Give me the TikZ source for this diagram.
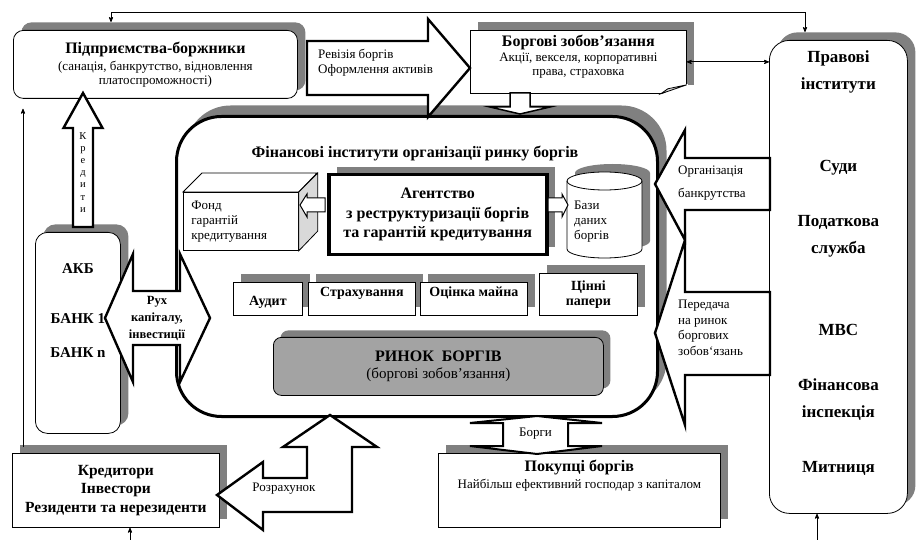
\documentclass[tikz,border=0pt]{standalone}
\usepackage{fontspec}
\setmainfont{Liberation Serif}
\usetikzlibrary{arrows,positioning,shadows}
\definecolor{shadowgray}{gray}{0.5}
\definecolor{marketgray}{gray}{0.64}
\definecolor{facegray}{gray}{0.85}
\newcommand{\hdfont}{\bfseries\fontsize{16}{18}\selectfont}
\newcommand{\sbfont}{\bfseries\fontsize{14}{15}\selectfont}
\newcommand{\txfont}{\fontsize{13}{14}\selectfont}
\tikzset{
    %Define standard arrow tip
    >=stealth',
    %Define style for boxes
    punktbox/.style={
           rectangle,
           draw=black, line width=0.8pt,
           fill=white,
           anchor=north west,
           inner sep=0pt,
           align=center},
    punktround/.style={
           punktbox,
           rounded corners=10pt},
    grayshadow/.style={
           drop shadow={shadow xshift=#1, shadow yshift=#1,
                        opacity=1, fill=shadowgray}},
    grayshadow/.default=8pt,
    % text at the top of a box
    toptext/.style={anchor=north, inner sep=0pt, align=center},
    % Define block arrow style
    pil/.style={
           draw=black,
           line width=2.4pt,
           fill=white,
           line join=miter}
}
\begin{document}
\begin{tikzpicture}[x=1pt,y=-1pt,font=\txfont]
\useasboundingbox (0,0) rectangle (922,540);

% outer boxes
\node[punktround, grayshadow, minimum width=284pt, minimum height=68pt]
  (debtors) at (13,30) {{\hdfont Підприємства-боржники}\\[3pt]
  (санація, банкрутство, відновлення\\платоспроможності)};
\node[punktbox, grayshadow, minimum width=216pt, minimum height=63pt,
  label={[toptext, yshift=-5pt]north:{{\hdfont Боргові зобов’язання}\\[1pt]
  Акції, векселя, корпоративні\\права, страховка}}]
  (oblig) at (470,30) {};
\fill[white] ([shift={(1,-10)}]oblig.south east) -- ([shift={(1,1)}]oblig.south east)
  -- ([shift={(-27,1)}]oblig.south east) -- cycle;
\filldraw[fill=facegray, line width=0.8pt] ([yshift=9pt]oblig.south east)
  -- ([shift={(-19,-5)}]oblig.south east) -- ([xshift=-26pt]oblig.south east) -- cycle;
\node[punktround, grayshadow, rounded corners=20pt, minimum width=138pt, minimum height=473pt,
  label={[toptext, yshift=-11pt, font=\bfseries\fontsize{17}{27}\selectfont]north:{Правові\\інститути\\[55pt]Суди\\[28pt]Податкова\\служба\\[55pt]МВС\\[28pt]Фінансова\\інспекція\\[28pt]Митниця}}]
  (legal) at (769,40) {};
\node[punktround, rounded corners=45pt, line width=3pt, minimum width=481pt, minimum height=300pt,
  drop shadow={shadow xshift=9pt, shadow yshift=11pt, opacity=1, fill=shadowgray}]
  (fin) at (175,115) {};
\node[punktround, grayshadow, rounded corners=12pt, minimum width=85pt, minimum height=201pt,
  label={[toptext, yshift=-31pt, font=\bfseries\fontsize{15}{17}\selectfont]north:{АКБ\\[33pt]БАНК 1\\[17pt]БАНК n}}]
  (akb) at (35,232) {};
\node[punktbox, grayshadow, minimum width=207pt, minimum height=74pt,
  font=\bfseries\fontsize{15.5}{18.5}\selectfont]
  (kred) at (12,453) {Кредитори\\Інвестори\\Резиденти та нерезиденти};
\node[punktbox, grayshadow, minimum width=282pt, minimum height=74pt,
  label={[toptext, yshift=-7pt]north:{{\hdfont Покупці боргів}\\[3pt]Найбільш ефективний господар з капіталом}}]
  (buyers) at (438,453) {};

% inside the financial institutions
\node[font=\bfseries\fontsize{16}{18}\selectfont, anchor=base] (fintitle) at (415,158)
  {Фінансові інститути організації ринку боргів};
\node[punktbox, minimum width=115pt, minimum height=58pt, text width=99pt, align=left,
  font=\fontsize{13}{15}\selectfont] (fund) at (183,192) {Фонд\\гарантій\\кредитування};
\filldraw[fill=white, line width=0.8pt] (fund.north west) -- ++(19,-19) -- ++(115,0)
  -- (fund.north east) -- cycle;
\filldraw[fill=facegray, line width=0.8pt] (fund.north east) -- ++(19,-19) -- ++(0,58)
  -- (fund.south east) -- cycle;
\node[punktbox, grayshadow, line width=3.5pt, minimum width=218pt, minimum height=80pt,
  font=\bfseries\fontsize{16}{19.5}\selectfont]
  (agency) at (327,173) {Агентство\\з реструктуризації боргів\\та гарантій кредитування};
% data base cylinder
\fill[shadowgray] (575,173) -- (575,241) arc[start angle=180, end angle=360, x radius=37.5pt, y radius=9pt]
  -- (650,173) arc[start angle=0, end angle=180, x radius=37.5pt, y radius=9pt] -- cycle;
\filldraw[fill=white, line width=0.8pt] (567,181) -- (567,249)
  arc[start angle=180, end angle=360, x radius=37.5pt, y radius=9pt]
  -- (642,181) arc[start angle=0, end angle=180, x radius=37.5pt, y radius=9pt] -- cycle;
\draw[line width=0.8pt] (567,181) arc[start angle=180, end angle=360, x radius=37.5pt, y radius=9pt];
\node[align=left, anchor=west, inner sep=0pt, font=\fontsize{13}{15}\selectfont]
  (db) at (574,222) {Бази\\даних\\боргів};

\node[punktbox, grayshadow, minimum width=69pt, text height=23pt, text depth=10pt, font=\sbfont]
  (audit) at (233,282) {Аудит};
\node[punktbox, grayshadow, minimum width=107pt, text height=14pt, text depth=19pt, font=\sbfont]
  (insur) at (308,282) {Страхування};
\node[punktbox, grayshadow, minimum width=107pt, text height=14pt, text depth=19pt, font=\sbfont]
  (valuation) at (420,282) {Оцінка майна};
\node[punktbox, grayshadow, minimum width=98pt, minimum height=42pt, font=\sbfont]
  (secur) at (539,273) {Цінні\\папери};
\node[punktround, rounded corners=8pt, fill=marketgray, grayshadow=7pt,
  minimum width=330pt, minimum height=58pt]
  (market) at (273,337) {{\hdfont РИНОК~~БОРГІВ}\\[3pt]\fontsize{15}{17}\selectfont(боргові зобов’язання)};

% block arrows
\draw[pil] (307,41) -- (428,41) -- (428,19) -- (470,68) -- (428,117) -- (428,95) -- (307,95) -- cycle;
\node[align=left, anchor=north west, inner sep=0pt, font=\fontsize{13}{15}\selectfont]
  (revision) at (318,49) {Ревізія боргів\\Оформлення активів};
\draw[pil] (73,227) -- (73,128) -- (63.5,128) -- (83,93) -- (102.5,128) -- (93,128) -- (93,227) -- cycle;
\node[toptext, font=\fontsize{10.5}{12.2}\selectfont] (credits) at (83,132) {К\\р\\е\\д\\и\\т\\и};
\draw[pil] (105,318) -- (133,254) -- (133,291) -- (180,291) -- (180,254) -- (210,318)
  -- (180,382) -- (180,345) -- (133,345) -- (133,382) -- cycle;
\node[toptext, font=\bfseries\fontsize{12.5}{17}\selectfont] (flow) at (157,296)
  {Рух\\капіталу,\\інвестиції};
\draw[pil] (770,158) -- (685,158) -- (685,130) -- (655,184) -- (685,240) -- (685,210) -- (770,210) -- cycle;
\node[align=left, anchor=north west, inner sep=0pt, font=\fontsize{13}{23}\selectfont]
  (bankrupt) at (678,166) {Організація\\банкрутства};
\draw[pil] (770,292) -- (685,292) -- (685,240) -- (655,333) -- (685,425) -- (685,375) -- (770,375) -- cycle;
\node[align=left, anchor=north west, inner sep=0pt, font=\fontsize{13}{15.6}\selectfont]
  (transfer) at (678,300) {Передача\\на ринок\\боргових\\зобов`язань};
\draw[pil, line width=2pt] (537,416) -- (602,423) -- (568,423) -- (568,446) -- (602,446) -- (537,454)
  -- (470,446) -- (503,446) -- (503,423) -- (470,423) -- cycle;
\node (debts) at (535.5,434) {Борги};
\draw[pil] (217,495) -- (263,462) -- (263,478) -- (307,478) -- (307,447) -- (283,447) -- (330,415)
  -- (377,447) -- (352,447) -- (352,512) -- (263,512) -- (263,530) -- cycle;
\node (settle) at (284,489) {Розрахунок};
\draw[pil, line width=1.5pt] (510,93) -- (530,93) -- (530,107) -- (550,107) -- (520,114)
  -- (490,107) -- (510,107) -- cycle;
\draw[pil, line width=1pt] (325,198) -- (307,198) -- (307,194) -- (300,205) -- (307,217)
  -- (307,212) -- (325,212) -- cycle;
\draw[pil, line width=1pt] (548,198) -- (562,198) -- (562,194) -- (568,205) -- (562,217)
  -- (562,212) -- (548,212) -- cycle;

% thin connectors
\coordinate (topL) at (111,12);
\coordinate (topR) at (805,12);
\coordinate (leftL) at (23,0);
\coordinate (botL) at (130,540);
\coordinate (botR) at (817,540);
\draw[<->, line width=0.8pt, shorten <=8pt, shorten >=8pt]
  (topL |- debtors.north) -- (topL) -- (topR) -- (topR |- legal.north);
\draw[<->, line width=0.8pt] (oblig.east) -- (oblig.east -| legal.west);
\draw[->, line width=0.8pt, shorten <=6pt, shorten >=10pt] (kred.north -| leftL) -- (debtors.south -| leftL);
\draw[->, line width=0.8pt] (botL) -- (botL |- kred.south);
\draw[->, line width=0.8pt] (botR) -- (botR |- legal.south);
\end{tikzpicture}
\end{document}
